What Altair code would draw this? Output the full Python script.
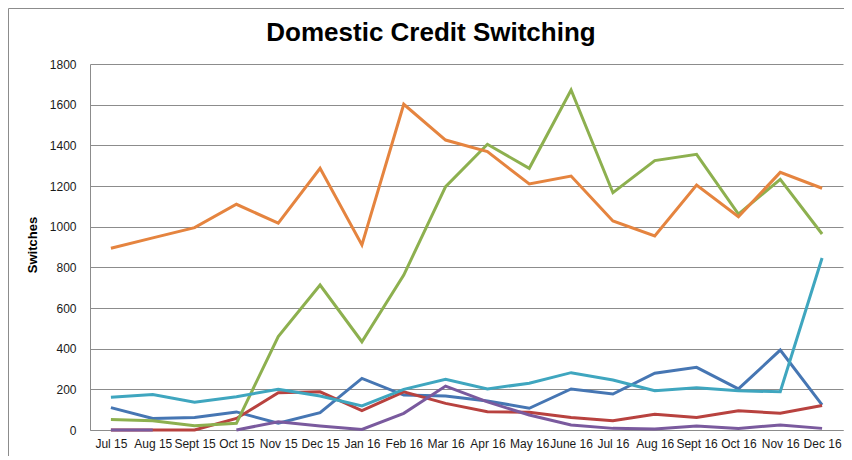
import altair as alt
import pandas as pd

months = ["Jul 15", "Aug 15", "Sept 15", "Oct 15", "Nov 15", "Dec 15", "Jan 16",
          "Feb 16", "Mar 16", "Apr 16", "May 16", "June 16", "Jul 16", "Aug 16",
          "Sept 16", "Oct 16", "Nov 16", "Dec 16"]

blue = [110, 57, 62, 89, 33, 85, 254, 172, 167, 143, 107, 202, 177, 279, 308, 202, 393, 124]
red = [0, 0, 0, 57, 183, 188, 95, 188, 131, 90, 87, 61, 46, 77, 61, 95, 82, 120]
green = [52, 46, 21, 33, 459, 713, 434, 762, 1197, 1405, 1287, 1672, 1167, 1325, 1356, 1062, 1233, 964]
purple = [0, 0, None, 0, 41, 20, 3, 82, 216, 138, 74, 25, 8, 5, 20, 8, 25, 8]
teal = [161, 174, 136, 164, 200, 167, 118, 200, 249, 202, 230, 282, 246, 193, 208, 193, 188, 846]
orange = [894, 945, 995, 1110, 1017, 1287, 910, 1602, 1426, 1369, 1210, 1249, 1028, 954, 1205, 1049, 1267, 1189]

series = [
    ("blue", blue, "#4676B3"),
    ("red", red, "#B8423F"),
    ("green", green, "#8DB04F"),
    ("purple", purple, "#7A5A9E"),
    ("teal", teal, "#3FA6BF"),
    ("orange", orange, "#E5843F"),
]

FONT = "Liberation Sans"

x_enc = alt.X("month:N", sort=months,
              scale=alt.Scale(type="point", padding=0.5, domain=months),
              axis=alt.Axis(title=None, labelAngle=0, ticks=False, grid=False,
                            labelPadding=8, labelFont=FONT, labelFontSize=12,
                            labelColor="#1a1a1a", domainColor="#8c8c8c",
                            labelOverlap=False))
y_enc = alt.Y("value:Q",
              scale=alt.Scale(domain=[0, 1800], nice=False),
              axis=alt.Axis(title=None, values=list(range(0, 1801, 200)), ticks=False,
                            format="d",
                            grid=True, gridColor="#8c8c8c", gridWidth=1,
                            labelPadding=14, labelFont=FONT, labelFontSize=12,
                            labelColor="#1a1a1a", domainColor="#8c8c8c"))

layers = []

# outer chart-area border
border = alt.Chart(pd.DataFrame({"a": [0]})).mark_rect(
    fill=None, stroke="#8c8c8c", strokeWidth=1
).encode(x=alt.value(-81.5), y=alt.value(-55.5), x2=alt.value(800), y2=alt.value(450))
layers.append(border)

for name, vals, col in series:
    rows = []
    seg = 0
    for m, v in zip(months, vals):
        if v is None:
            seg += 1
            continue
        rows.append({"month": m, "value": v, "seg": seg})
    df = pd.DataFrame(rows)
    layers.append(
        alt.Chart(df).mark_line(color=col, strokeWidth=3, strokeJoin="miter")
        .encode(x=x_enc, y=y_enc, detail="seg:N")
    )

title = alt.Chart(pd.DataFrame({"t": ["Domestic Credit Switching"]})).mark_text(
    font=FONT, fontSize=26, fontWeight="bold", color="#000000", align="center", baseline="middle"
).encode(text="t:N", x=alt.value(341), y=alt.value(-31))
layers.append(title)

ytitle = alt.Chart(pd.DataFrame({"t": ["Switches"]})).mark_text(
    font=FONT, fontSize=13, fontWeight="bold", color="#000000", angle=270,
    align="center", baseline="middle"
).encode(text="t:N", x=alt.value(-57), y=alt.value(181))
layers.append(ytitle)

chart = alt.layer(*layers).properties(
    width=753, height=366,
    padding={"left": 82, "top": 56, "right": 1, "bottom": 26},
    autosize=alt.AutoSizeParams(type="none"),
).configure_view(stroke=None)

chart.save("out.html", embed_options={"renderer": "svg", "actions": False})
